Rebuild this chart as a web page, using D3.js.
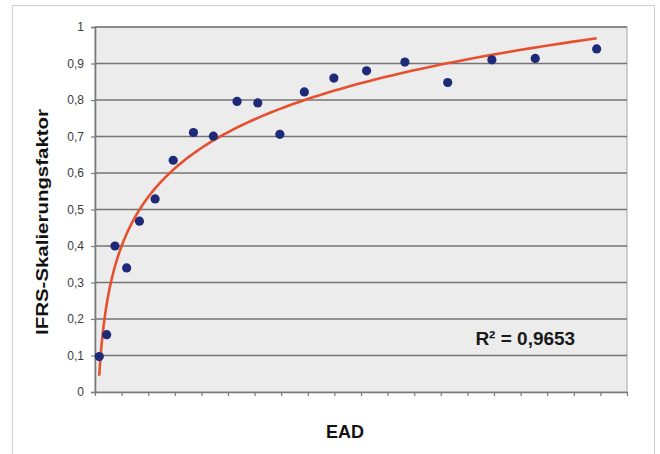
<!DOCTYPE html>
<html><head><meta charset="utf-8">
<script src="https://cdn.jsdelivr.net/npm/d3@7"></script>
<style>
html,body{margin:0;padding:0;background:#fff;}
svg{display:block;font-family:"Liberation Sans",Arial,sans-serif;}
</style></head>
<body><svg id="c" width="660" height="454"></svg>
<script>
// Data
const eadValues = [0.16,0.44,0.75,1.19,1.67,2.26,2.94,3.70,4.45,5.34,6.12,6.95,7.87,8.98,10.21,11.65,13.26,14.92,16.55,18.86];
const ifrsFactor = [0.097,0.157,0.400,0.340,0.468,0.529,0.635,0.711,0.701,0.796,0.792,0.706,0.822,0.860,0.880,0.904,0.848,0.910,0.914,0.940];
const yTicks = [0,0.1,0.2,0.3,0.4,0.5,0.6,0.7,0.8,0.9,1];
const xTicks = d3.range(0,21);
const rSquaredLabel = "R² = 0,9653";
const yTitle = "IFRS-Skalierungsfaktor";
const xTitle = "EAD";

const svg = d3.select("#c");
const L=95,R=627,T=27,B=392;
const x = d3.scaleLinear().domain([0,20]).range([L,R]);
const y = d3.scaleLinear().domain([0,1]).range([B,T]);

// outer frame
svg.append("rect").attr("x",12.5).attr("y",5.5).attr("width",642).attr("height",470)
  .attr("fill","#fff").attr("stroke","#cfcfcf").attr("stroke-width",1);

// plot area
svg.append("rect").attr("x",L).attr("y",T).attr("width",R-L).attr("height",B-T)
  .attr("fill","#ececec").attr("stroke","#b4b4b4").attr("stroke-width",1.2);

// gridlines
svg.append("g").selectAll("line").data(yTicks.filter(d=>d>0)).join("line")
  .attr("x1",L).attr("x2",R).attr("y1",d=>y(d)).attr("y2",d=>y(d))
  .attr("stroke","#747474").attr("stroke-width",1.6);

// y axis
const fmt = d => String(d).replace(".",",");
const yAxis = svg.append("g").attr("transform",`translate(${L},0)`)
  .call(d3.axisLeft(y).tickValues(yTicks).tickFormat(fmt).tickSize(4).tickPadding(7));
yAxis.select(".domain").attr("stroke","#7a7a7a").attr("stroke-width",1.6);
yAxis.selectAll(".tick line").attr("stroke","#7a7a7a").attr("stroke-width",1.2);
yAxis.selectAll("text").attr("font-size",12).attr("fill","#3c3c3c").attr("font-family","Liberation Sans, Arial, sans-serif");

// x axis
const xAxis = svg.append("g").attr("transform",`translate(0,${B})`)
  .call(d3.axisBottom(x).tickValues(xTicks).tickFormat("").tickSize(4).tickSizeOuter(0));
xAxis.select(".domain").attr("stroke","#7a7a7a").attr("stroke-width",1.6);
xAxis.selectAll(".tick line").attr("stroke","#7a7a7a").attr("stroke-width",1.2);

// logarithmic trend line fitted to the data (least squares on ln x)
const lx = eadValues.map(Math.log);
const mx = d3.mean(lx), my = d3.mean(ifrsFactor);
const a = d3.sum(lx.map((v,i)=>(v-mx)*(ifrsFactor[i]-my))) / d3.sum(lx.map(v=>(v-mx)*(v-mx)));
const b = my - a*mx;
const xs = d3.range(0,201).map(i=>eadValues[0]*Math.pow(eadValues[eadValues.length-1]/eadValues[0], i/200));
svg.append("path").datum(xs)
  .attr("d", d3.line().x(d=>x(d)).y(d=>y(a*Math.log(d)+b)))
  .attr("fill","none").attr("stroke","#e5502e").attr("stroke-width",2.6);

// points
svg.append("g").selectAll("circle").data(eadValues).join("circle")
  .attr("cx",d=>x(d)).attr("cy",(d,i)=>y(ifrsFactor[i])).attr("r",4.6)
  .attr("fill","#1e2a78");

// R² label
svg.append("text").attr("x",x(14.3)).attr("y",y(0.128))
  .attr("font-size",19).attr("font-weight","bold").attr("fill","#1a1a1a").text(rSquaredLabel);

// axis titles
svg.append("text").attr("x",345).attr("y",438).attr("text-anchor","middle")
  .attr("font-size",18).attr("font-weight","bold").attr("fill","#111").text(xTitle);
svg.append("text").attr("transform","translate(48,222) rotate(-90)").attr("text-anchor","middle")
  .attr("font-size",16).attr("font-weight","bold").attr("fill","#111")
  .attr("textLength",226).attr("lengthAdjust","spacingAndGlyphs").text(yTitle);
</script></body></html>
